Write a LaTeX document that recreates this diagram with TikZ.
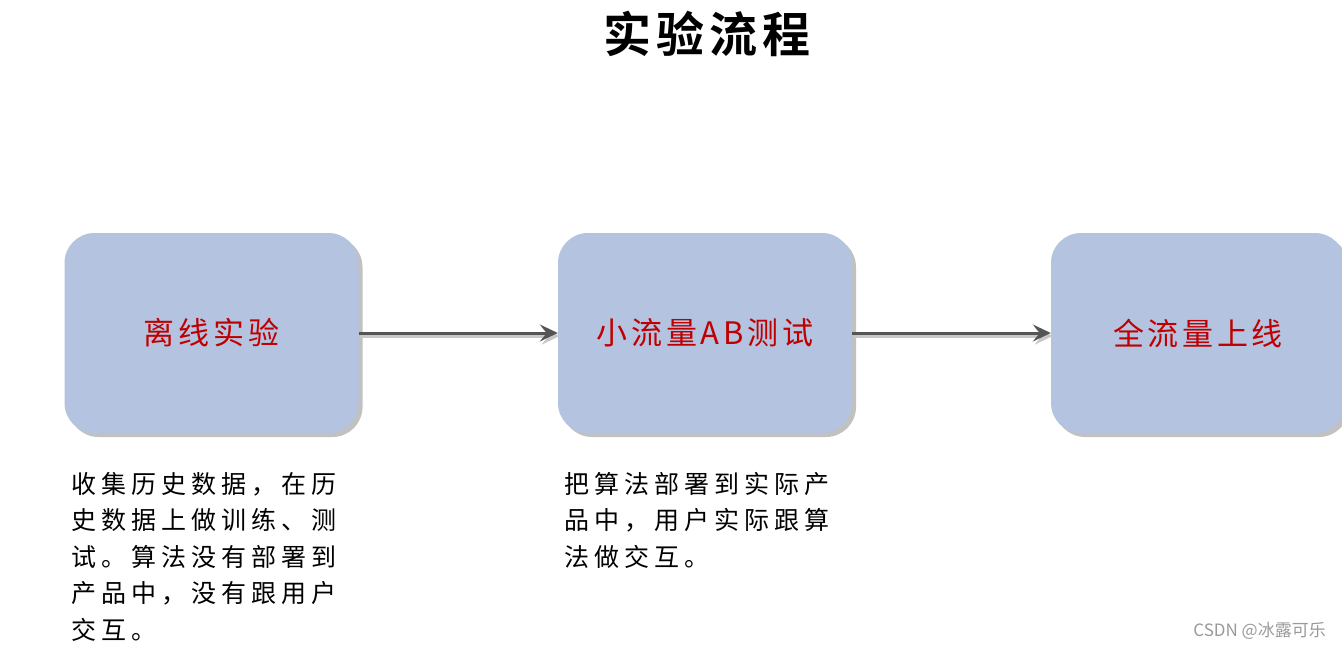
\documentclass[tikz,border=0pt]{standalone}
\usepackage{fontspec}
\setmainfont{Noto Sans CJK SC}
\newfontfamily\cjk{Noto Sans CJK SC}
\newfontfamily\titlefont[LetterSpace=10]{Noto Sans CJK SC Bold}
\newfontfamily\boxfont[LetterSpace=12]{Noto Sans CJK SC}
\newfontfamily\descfont[LetterSpace=20]{Noto Sans CJK SC}
\usetikzlibrary{shadows,arrows.meta}
\definecolor{boxfill}{HTML}{B3C3E0}
\definecolor{boxtext}{HTML}{C00000}
\definecolor{arrowgray}{HTML}{555555}
\definecolor{wm}{HTML}{9A9A9A}
\tikzset{
  stagebox/.style={draw=none, fill=boxfill, rounded corners=30pt,
    minimum width=294pt, minimum height=200pt, inner sep=0pt,
    drop shadow={shadow xshift=4pt, shadow yshift=-4pt, opacity=0.4, fill=black!60},
    font=\boxfont\fontsize{31}{34}\selectfont, text=boxtext},
  flowarrow/.style={draw=arrowgray, line width=3pt,
    -{Stealth[length=18pt,width=17pt,inset=7pt]},
    preaction={draw=black!22, line width=3pt, transform canvas={shift={(2pt,-3pt)}}}},
  desc/.style={anchor=north west, inner sep=0pt, align=left,
    font=\descfont\fontsize{25}{36.5}\selectfont, text=black},
}
\begin{document}
\begin{tikzpicture}[x=1pt,y=-1pt]
\useasboundingbox[fill=white] (0,0) rectangle (1342,649);
\node[font=\titlefont\fontsize{48}{52}\selectfont] (title) at (707,34) {实验流程};
\node[stagebox] (s1) at (211.5,333) {离线实验};
\node[stagebox] (s2) at (705,333) {小流量AB测试};
\node[stagebox] (s3) at (1198,333) {全流量上线};
\draw[flowarrow] (s1.east) -- (s2.west);
\draw[flowarrow] (s2.east) -- (s3.west);
\node[desc] (d1) at (71,472) {收集历史数据，在历\\史数据上做训练、测\\试。算法没有部署到\\产品中，没有跟用户\\交互。};
\node[desc] (d2) at (564,472) {把算法部署到实际产\\品中，用户实际跟算\\法做交互。};
\node[anchor=east, inner sep=0pt, text=wm, font=\cjk\fontsize{17}{20}\selectfont] (wmk) at (1326,631) {CSDN @冰露可乐};
\end{tikzpicture}
\end{document}
